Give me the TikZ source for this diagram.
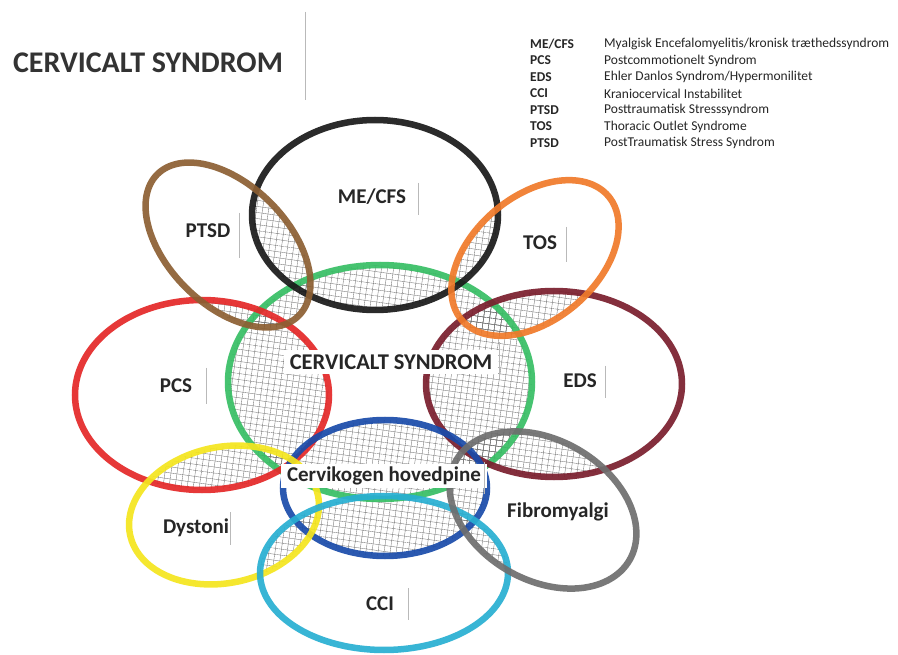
\documentclass[tikz,border=0pt]{standalone}
\usepackage{fontspec}
\setmainfont{Carlito}
\usetikzlibrary{patterns.meta}
\newcommand{\ringpath}[5]{plot[smooth cycle, samples=60, domain=0:354] ({#1+#3*cos(\x)*cos(#5)-#4*sin(\x)*sin(#5)},{#2+#3*cos(\x)*sin(#5)+#4*sin(\x)*cos(#5)})}
\def\Rblack{\ringpath{375}{215}{123}{95}{0}}
\def\Rbrown{\ringpath{228}{245}{100}{60}{45}}
\def\Rorange{\ringpath{535}{258}{96}{62}{-40}}
\def\Rgreen{\ringpath{380}{382}{152}{117}{0}}
\def\Rred{\ringpath{202}{395}{127}{95}{0}}
\def\Rmaroon{\ringpath{554}{384}{128}{93}{0}}
\def\Rblue{\ringpath{385}{488}{102}{68}{0}}
\def\Ryellow{\ringpath{224}{515}{96}{68}{-12}}
\def\Rcyan{\ringpath{384}{573}{124}{77}{0}}
\def\Rgray{\ringpath{543}{510}{100}{70}{30}}
\newcommand{\hatchpair}[2]{\begin{scope}\clip #1; \fill[hatchA] #2; \fill[hatchB] #2;\end{scope}}
\definecolor{cblack}{RGB}{25,25,25}
\definecolor{cbrown}{RGB}{140,95,50}
\definecolor{corange}{RGB}{240,122,42}
\definecolor{cgreen}{RGB}{55,190,100}
\definecolor{cred}{RGB}{228,40,40}
\definecolor{cmaroon}{RGB}{122,30,45}
\definecolor{cblue}{RGB}{25,75,170}
\definecolor{cyellow}{RGB}{245,230,30}
\definecolor{ccyan}{RGB}{40,175,210}
\definecolor{cgray}{RGB}{110,110,110}
\begin{document}
\begin{tikzpicture}[x=1pt,y=-1pt,
  hatchA/.style={pattern={Lines[angle=-8,distance=6pt,line width=0.35pt]}, pattern color=black!55},
  hatchB/.style={pattern={Lines[angle=82,distance=6pt,line width=0.35pt]}, pattern color=black!55},
  ring/.style={line width=6.5pt, opacity=0.92},
  lab/.style={font=\fontsize{21}{24}\selectfont\bfseries, text=black!85, inner sep=2pt},
  boxlab/.style={lab, fill=white, inner xsep=6pt, inner ysep=5pt},
  tick/.style={draw=gray!55, line width=0.6pt},
  legA/.style={font=\fontsize{13.5}{15}\selectfont\bfseries, anchor=west, inner sep=0pt, text=black!85},
  legB/.style={font=\fontsize{13.5}{15}\selectfont, anchor=west, inner sep=0pt, text=black!85}]
\useasboundingbox (0,0) rectangle (898,655);
\fill[white] (0,0) rectangle (898,655);
% hatched overlaps
\hatchpair{\Rblack}{\Rbrown}
\hatchpair{\Rblack}{\Rorange}
\hatchpair{\Rblack}{\Rgreen}
\hatchpair{\Rbrown}{\Rred}
\hatchpair{\Rbrown}{\Rgreen}
\hatchpair{\Rorange}{\Rgreen}
\hatchpair{\Rorange}{\Rmaroon}
\hatchpair{\Rgreen}{\Rred}
\hatchpair{\Rgreen}{\Rmaroon}
\hatchpair{\Rgreen}{\Rblue}
\hatchpair{\Rgreen}{\Ryellow}
\hatchpair{\Rgreen}{\Rcyan}
\hatchpair{\Rgreen}{\Rgray}
\hatchpair{\Rred}{\Ryellow}
\hatchpair{\Rred}{\Rblue}
\hatchpair{\Rmaroon}{\Rgray}
\hatchpair{\Rmaroon}{\Rblue}
\hatchpair{\Rblue}{\Rcyan}
\hatchpair{\Rblue}{\Rgray}
\hatchpair{\Ryellow}{\Rcyan}
\hatchpair{\Rcyan}{\Rgray}
% rings
\draw[ring, cgreen] \Rgreen;
\draw[ring, cred] \Rred;
\draw[ring, cmaroon] \Rmaroon;
\draw[ring, cblack] \Rblack;
\draw[ring, cbrown] \Rbrown;
\draw[ring, corange] \Rorange;
\draw[ring, cblue] \Rblue;
\draw[ring, cyellow] \Ryellow;
\draw[ring, ccyan] \Rcyan;
\draw[ring, cgray] \Rgray;
% labels
\node[lab] (mecfs) at (372,197) {ME/CFS};
\node[lab] (ptsd) at (208,231) {PTSD};
\node[lab] (tos) at (540,243) {TOS};
\node[boxlab, font=\fontsize{22.5}{24}\selectfont\bfseries] (cs) at (391,362) {CERVICALT SYNDROM};
\node[lab] (pcs) at (176,386) {PCS};
\node[lab] (eds) at (580,381) {EDS};
\node[boxlab, inner ysep=3pt] (ch) at (384,476) {Cervikogen hovedpine};
\node[lab] (dys) at (196,528) {Dystoni};
\node[lab, fill=white, inner sep=3pt] (fib) at (558,512) {Fibromyalgi};
\node[lab] (cci) at (380,604) {CCI};
% small vertical marks
\draw[tick] (418,183) -- (418,215);
\draw[tick] (239,213) -- (239,258);
\draw[tick] (566,227) -- (566,262);
\draw[tick] (499,342) -- (499,378);
\draw[tick] (206,368) -- (206,404);
\draw[tick] (605,366) -- (605,398);
\draw[tick] (484,462) -- (484,494);
\draw[tick] (230,512) -- (230,545);
\draw[tick] (408,588) -- (408,620);
\draw[tick] (305,12) -- (305,100);
% title
\node[font=\fontsize{30}{34}\selectfont\bfseries, text=black!80] (title) at (148,63) {CERVICALT SYNDROM};
% legend
\node[legA] (a1) at (530,44) {ME/CFS}; \node[legB] (b1) at (604,44) {Myalgisk Encefalomyelitis/kronisk træthedssyndrom};
\node[legA] (a2) at (530,60.5) {PCS}; \node[legB] (b2) at (604,60.5) {Postcommotionelt Syndrom};
\node[legA] (a3) at (530,77) {EDS}; \node[legB] (b3) at (604,77) {Ehler Danlos Syndrom/Hypermonilitet};
\node[legA] (a4) at (530,93.5) {CCI}; \node[legB] (b4) at (604,93.5) {Kraniocervical Instabilitet};
\node[legA] (a5) at (530,110) {PTSD}; \node[legB] (b5) at (604,110) {Posttraumatisk Stresssyndrom};
\node[legA] (a6) at (530,126.5) {TOS}; \node[legB] (b6) at (604,126.5) {Thoracic Outlet Syndrome};
\node[legA] (a7) at (530,143) {PTSD}; \node[legB] (b7) at (604,143) {PostTraumatisk Stress Syndrom};
\end{tikzpicture}
\end{document}
